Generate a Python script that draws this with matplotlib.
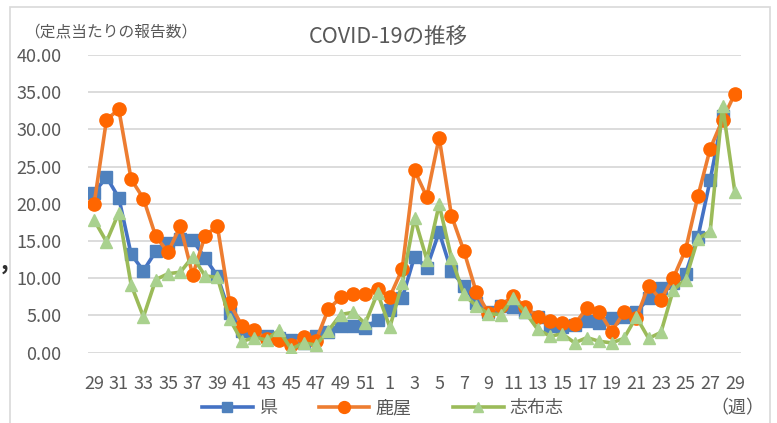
import numpy as np
import matplotlib
matplotlib.use("Agg")
import matplotlib.pyplot as plt
from matplotlib.patches import Rectangle

plt.rcParams['font.family'] = ['Noto Sans CJK JP', 'DejaVu Sans']

weeks = list(range(29, 53)) + list(range(1, 30))

ken = [21.5, 23.6, 20.8, 13.2, 11.0, 13.6, 14.7, 15.3, 15.1, 12.7,
       10.3, 5.3, 2.9, 2.6, 2.2, 1.9, 1.7, 1.3, 2.2, 2.8,
       3.5, 3.5, 3.3, 4.4, 5.7, 7.3, 12.9, 11.4, 16.2, 10.9,
       9.0, 6.6, 5.5, 6.2, 6.1, 5.5, 4.8, 3.6, 3.4, 3.7,
       4.2, 4.0, 4.7, 4.8, 5.4, 7.3, 8.7, 9.3, 10.6, 15.5,
       23.2, 31.8, np.nan]

kanoya = [20.0, 31.3, 32.7, 23.3, 20.7, 15.6, 13.5, 17.0, 10.4, 15.7,
          17.0, 6.6, 3.6, 3.0, 1.8, 1.7, 1.0, 2.1, 1.6, 5.8,
          7.4, 7.9, 7.9, 8.6, 7.5, 11.2, 24.5, 20.9, 28.9, 18.4,
          13.7, 8.2, 5.3, 6.3, 7.6, 6.1, 4.8, 4.3, 3.9, 3.8,
          6.0, 5.5, 2.8, 5.4, 4.6, 9.0, 7.1, 10.0, 13.8, 21.0,
          27.4, 31.3, 34.8]

shibushi = [17.8, 14.9, 18.8, 9.1, 4.8, 9.8, 10.6, 10.8, 12.9, 10.3,
            10.1, 4.5, 1.5, 2.0, 1.7, 3.0, 0.45, 1.3, 1.0, 2.9,
            5.1, 5.4, 3.9, 8.0, 3.4, 9.3, 18.1, 12.5, 19.9, 12.7,
            7.8, 6.3, 5.2, 5.1, 7.3, 5.4, 3.1, 2.2, 2.5, 1.3,
            2.0, 1.5, 1.3, 1.9, 4.8, 1.9, 2.7, 8.4, 9.8, 15.3,
            16.3, 33.2, 21.6]

W, H = 777, 423
fig = plt.figure(figsize=(W / 100, H / 100), dpi=100)
ax = fig.add_axes([88 / W, 1 - 352.5 / H, (741 - 88) / W, (352.5 - 55) / H])

x = np.arange(len(weeks))
ax.plot(x, ken, color="#4472C4", lw=2.6, marker="s", ms=8.5,
        mfc="#4F81BD", mec="#4F81BD", label="県")
ax.plot(x, kanoya, color="#ED7D31", lw=2.6, marker="o", ms=9.5,
        mfc="#FF6600", mec="#FF6600", label="鹿屋")
ax.plot(x, shibushi, color="#9BBB59", lw=2.6, marker="^", ms=8,
        mfc="#A9D18E", mec="#A9D18E", label="志布志")

ax.set_xlim(-0.5, len(weeks) - 0.5)
ax.set_ylim(0, 40)
ax.set_yticks(np.arange(0, 41, 5))
ax.set_yticklabels(["%.2f" % v for v in np.arange(0, 41, 5)])
ax.set_xticks(x[::2])
ax.set_xticklabels([str(w) for w in weeks[::2]])
ax.tick_params(axis="y", length=0, pad=19, labelsize=13, labelcolor="#595959")
ax.tick_params(axis="x", length=0, pad=16, labelsize=13, labelcolor="#595959")
ax.grid(axis="y", color="#d9d9d9", lw=1.3)
ax.set_axisbelow(True)
for s in ax.spines.values():
    s.set_visible(False)

fig.text(388 / W, 1 - 37 / H, "COVID-19の推移", ha="center", va="center",
         fontsize=15.5, color="#595959")
fig.text(111 / W, 1 - 33 / H, "（定点当たりの報告数）", ha="center", va="center",
         fontsize=11.3, color="#595959")
fig.text(737 / W, 1 - 408 / H, "（週）", ha="center", va="center",
         fontsize=13, color="#595959")
fig.text(1 / W, 1 - 262 / H, ",", ha="left", va="center", fontsize=17,
         fontweight="bold", color="#303030")

fig.legend(loc="center", bbox_to_anchor=(383 / W, 1 - 408 / H), ncol=3,
           frameon=False, fontsize=13, handlelength=2.8, handletextpad=0.35,
           columnspacing=2.3, labelcolor="#595959", markerscale=0.9)

fig.add_artist(Rectangle((10 / W, -0.05), 760 / W, 1.05 - 7 / H,
                         transform=fig.transFigure, fill=False,
                         edgecolor="#d9d9d9", lw=1.2))

fig.savefig("out.png", dpi=100)
